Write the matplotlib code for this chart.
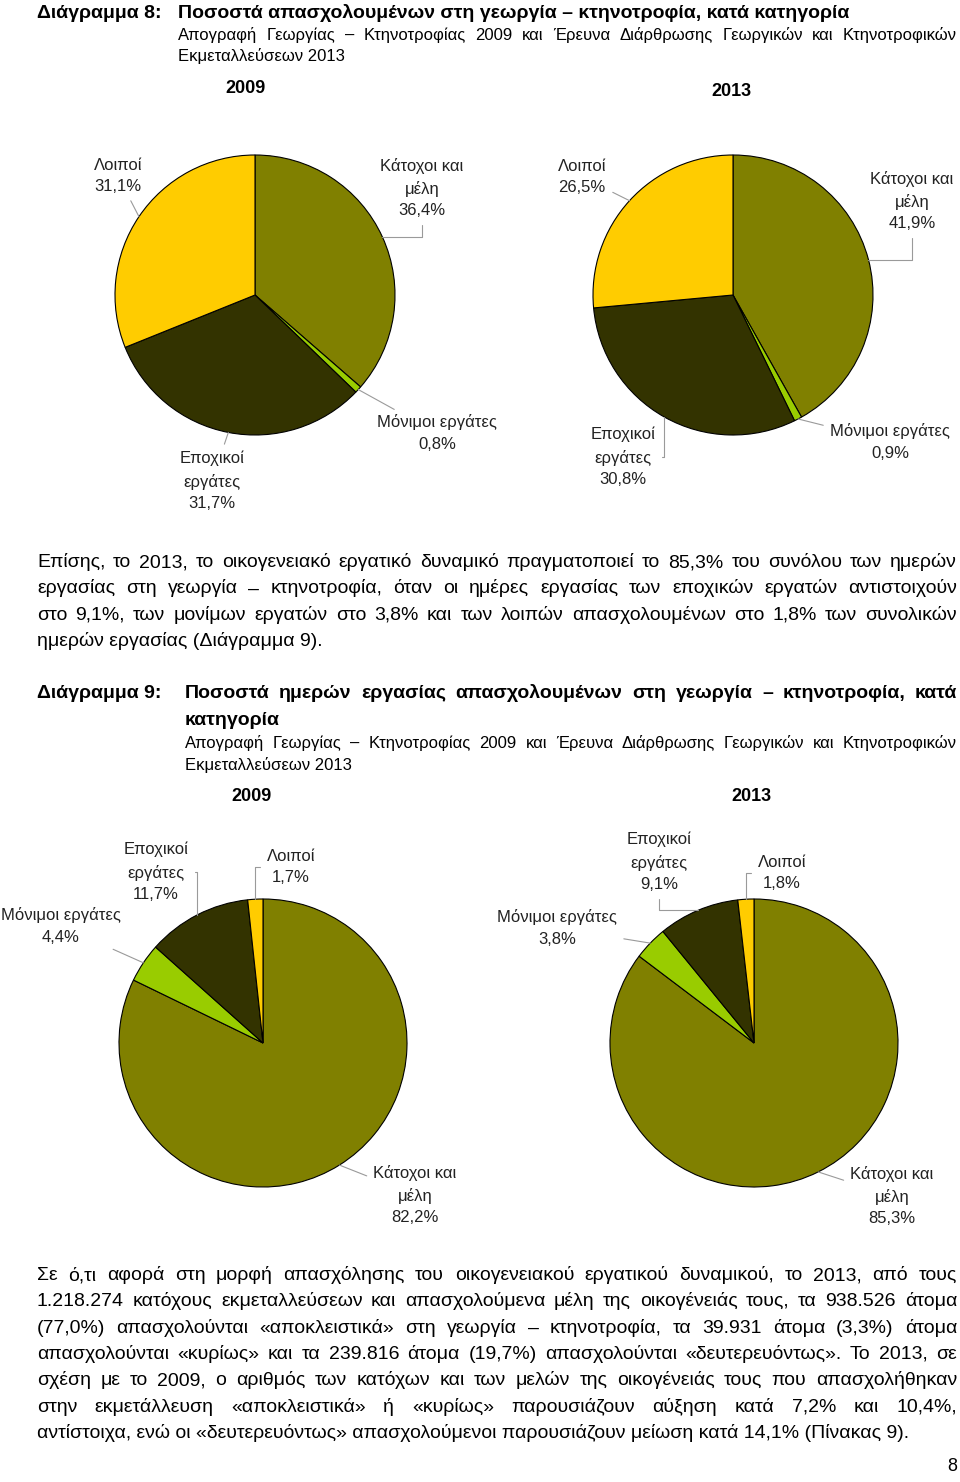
import matplotlib
matplotlib.use("Agg")
import matplotlib.pyplot as plt
import numpy as np

plt.rcParams['font.family'] = ['Liberation Sans Narrow', 'Liberation Sans', 'DejaVu Sans']

W, H = 960, 1482

categories = ['Κάτοχοι και\nμέλη', 'Μόνιμοι εργάτες', 'Εποχικοί\nεργάτες', 'Λοιποί']
colors = ['#808000', '#99CC00', '#333300', '#FFCC00']

workers_2009 = [36.4, 0.8, 31.7, 31.1]
workers_2013 = [41.9, 0.9, 30.8, 26.5]
days_2009 = [82.2, 4.4, 11.7, 1.7]
days_2013 = [85.3, 3.8, 9.1, 1.8]

para1 = [
    "Επίσης, το 2013, το οικογενειακό εργατικό δυναμικό πραγματοποιεί το 85,3% του συνόλου των ημερών",
    "εργασίας στη γεωργία – κτηνοτροφία, όταν οι ημέρες εργασίας των εποχικών εργατών αντιστοιχούν",
    "στο 9,1%, των μονίμων εργατών στο 3,8% και των λοιπών απασχολουμένων στο 1,8% των συνολικών",
    "ημερών εργασίας (Διάγραμμα 9).",
]
para2 = [
    "Σε ό,τι αφορά στη μορφή απασχόλησης του οικογενειακού εργατικού δυναμικού, το 2013, από τους",
    "1.218.274 κατόχους εκμεταλλεύσεων και απασχολούμενα μέλη της οικογένειάς τους, τα 938.526 άτομα",
    "(77,0%) απασχολούνται «αποκλειστικά» στη γεωργία – κτηνοτροφία, τα 39.931 άτομα (3,3%) άτομα",
    "απασχολούνται «κυρίως» και τα 239.816 άτομα (19,7%) απασχολούνται «δευτερευόντως». Το 2013, σε",
    "σχέση με το 2009, ο αριθμός των κατόχων και των μελών της οικογένειάς τους που απασχολήθηκαν",
    "στην εκμετάλλευση «αποκλειστικά» ή «κυρίως» παρουσιάζουν αύξηση κατά 7,2% και 10,4%,",
    "αντίστοιχα, ενώ οι «δευτερευόντως» απασχολούμενοι παρουσιάζουν μείωση κατά 14,1% (Πίνακας 9).",
]
subtitle = "Απογραφή Γεωργίας – Κτηνοτροφίας 2009 και Έρευνα Διάρθρωσης Γεωργικών και Κτηνοτροφικών"

STRAIGHT = 'arc3'
V_THEN_H = 'angle,angleA=90,angleB=0,rad=0'
H_THEN_V = 'angle,angleA=0,angleB=90,rad=0'

fig = plt.figure(figsize=(W / 100, H / 100), dpi=100)
ax = fig.add_axes([0, 0, 1, 1])
renderer = fig.canvas.get_renderer()


def Y(y):
    return H - y


def put(x, y, s, size=14, weight='normal', ha='left'):
    # y is the visual middle of the line; place on a common baseline
    return ax.text(x, Y(y + 0.36 * size), s, fontsize=size, fontweight=weight,
                   ha=ha, va='baseline', color='black')


def justify(x0, x1, y, s, size=14, weight='normal'):
    words = s.split(' ')
    texts = [put(0, y, w, size, weight) for w in words]
    widths = [t.get_window_extent(renderer).width for t in texts]
    gap = (x1 - x0 - sum(widths)) / (len(words) - 1)
    x = x0
    for t, w in zip(texts, widths):
        t.set_x(x)
        x += w + gap


def paragraph(lines, y0, step):
    for i, line in enumerate(lines):
        y = y0 + i * step
        if i < len(lines) - 1:
            justify(37, 957, y, line)
        else:
            put(37, y, line)


def pie(values, cx, cy, r, label_pos, styles):
    wedges, _ = ax.pie(values, colors=colors, startangle=90, counterclock=False,
                       center=(cx, Y(cy)), radius=r, frame=True,
                       wedgeprops=dict(edgecolor='black', linewidth=0.8))
    for w, cat, v, (lx, ly), cs in zip(wedges, categories, values, label_pos, styles):
        ang = np.deg2rad((w.theta1 + w.theta2) / 2)
        ex, ey = cx + r * np.cos(ang), Y(cy) + r * np.sin(ang)
        lab = cat + '\n' + f"{v:.1f}".replace('.', ',') + '%'
        ax.annotate(lab, xy=(ex, ey), xytext=(lx, Y(ly)), ha='center', va='center',
                    fontsize=12, color='#222222', linespacing=1.55,
                    arrowprops=dict(arrowstyle='-', color='#9a9a9a', lw=0.8,
                                    shrinkA=3, shrinkB=0, connectionstyle=cs))


# Diagram 8
put(37, 13, "Διάγραμμα 8:", 14, 'bold')
put(178, 13, "Ποσοστά απασχολουμένων στη γεωργία – κτηνοτροφία, κατά κατηγορία", 14, 'bold')
justify(178, 957, 36, subtitle, 12)
put(178, 57, "Εκμεταλλεύσεων 2013", 12)
put(246, 88, "2009", 13, 'bold', ha='center')
put(731, 91, "2013", 13, 'bold', ha='center')

pie(workers_2009, 255, 295, 140, [(422, 188), (437, 433), (212, 481), (118, 176)],
    [V_THEN_H, STRAIGHT, STRAIGHT, STRAIGHT])
pie(workers_2013, 733, 295, 140, [(912, 201), (890, 442), (623, 457), (582, 177)],
    [V_THEN_H, STRAIGHT, H_THEN_V, STRAIGHT])

paragraph(para1, 562, 26.4)

# Diagram 9
put(37, 693, "Διάγραμμα 9:", 14, 'bold')
justify(185, 957, 693, "Ποσοστά ημερών εργασίας απασχολουμένων στη γεωργία – κτηνοτροφία, κατά", 14, 'bold')
put(185, 720, "κατηγορία", 14, 'bold')
justify(185, 957, 744, subtitle, 12)
put(185, 766, "Εκμεταλλεύσεων 2013", 12)
put(252, 796, "2009", 13, 'bold', ha='center')
put(751, 796, "2013", 13, 'bold', ha='center')

pie(days_2009, 263, 1043, 144, [(415, 1195), (61, 926), (156, 872), (291, 867)],
    [STRAIGHT, STRAIGHT, H_THEN_V, H_THEN_V])
pie(days_2013, 754, 1043, 144, [(892, 1196), (557, 928), (659, 862), (782, 873)],
    [STRAIGHT, STRAIGHT, V_THEN_H, H_THEN_V])

paragraph(para2, 1275, 26.3)

put(952, 1466, "8", 13, ha='center')

ax.set_xlim(0, W)
ax.set_ylim(0, H)
ax.set_aspect('auto')
ax.axis('off')
fig.savefig('out.png', dpi=100, facecolor='white')
